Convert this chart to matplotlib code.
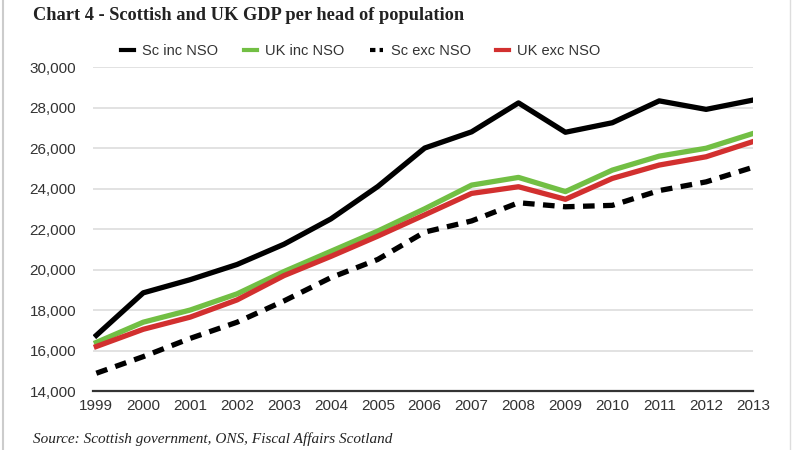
import matplotlib.pyplot as plt
from matplotlib.lines import Line2D

years = list(range(1999, 2014))
sc_inc = [16750, 18850, 19500, 20250, 21250, 22500, 24100, 26000, 26800, 28230, 26780, 27250, 28330, 27910, 28370]
uk_inc = [16400, 17400, 18000, 18800, 19900, 20900, 21900, 23000, 24170, 24550, 23850, 24910, 25600, 25990, 26720]
sc_exc = [14880, 15700, 16600, 17400, 18450, 19600, 20500, 21850, 22400, 23300, 23100, 23170, 23900, 24330, 25050]
uk_exc = [16200, 17050, 17650, 18500, 19700, 20650, 21650, 22700, 23760, 24090, 23470, 24500, 25160, 25570, 26320]
yticks = list(range(14000, 30001, 2000))

green = "#72bf44"
red = "#d2302f"

fig = plt.figure(figsize=(8, 4.5), dpi=100)
ax = fig.add_axes([0.1163, 0.131, 0.825, 0.72])

ax.plot(years, sc_exc, color="black", lw=3.8, dashes=(2.2, 1.6), solid_capstyle="butt")
ax.plot(years, uk_inc, color=green, lw=3.8)
ax.plot(years, uk_exc, color=red, lw=3.8)
ax.plot(years, sc_inc, color="black", lw=3.8)

ax.set_xlim(1998.93, 2013.0)
ax.set_ylim(14000, 30000)
ax.set_yticks(yticks)
ax.set_yticklabels([f"{v:,}" for v in yticks])
ax.set_xticks(years)
ax.grid(axis="y", color="#dddddd", lw=1.2)
ax.set_axisbelow(True)
for s in ["left", "right", "top"]:
    ax.spines[s].set_visible(False)
ax.spines["bottom"].set_color("#333333")
ax.spines["bottom"].set_linewidth(1.6)
ax.tick_params(length=0, labelsize=11, labelcolor="#333333", pad=6, labelfontfamily="Liberation Sans")
ax.tick_params(axis="y", pad=12)

handles = [
    Line2D([], [], color="black", lw=3),
    Line2D([], [], color=green, lw=3),
    Line2D([], [], color="black", lw=3, dashes=(1.3, 1.0)),
    Line2D([], [], color=red, lw=3),
]
labels = ["Sc inc NSO", "UK inc NSO", "Sc exc NSO", "UK exc NSO"]
fig.legend(handles, labels, loc="center", bbox_to_anchor=(0.451, 0.886), ncol=4,
           frameon=False, handlelength=0.9, columnspacing=1.75, handletextpad=0.55,
           prop={"family": "Liberation Sans", "size": 10.5}, labelcolor="#333333")

fig.text(0.041, 0.985, "Chart 4 - Scottish and UK GDP per head of population", fontsize=13.2,
         fontweight="bold", family="Liberation Serif", va="top", color="#222222")
fig.text(0.041, 0.008, "Source: Scottish government, ONS, Fiscal Affairs Scotland", fontsize=11,
         style="italic", family="Liberation Serif", va="bottom", color="#222222")

fig.add_artist(Line2D([0.004, 0.004], [0, 1], color="#cccccc", lw=1.5))
fig.add_artist(Line2D([0.988, 0.988], [0, 1], color="#dddddd", lw=1.0))

fig.savefig("out.png", dpi=100)
